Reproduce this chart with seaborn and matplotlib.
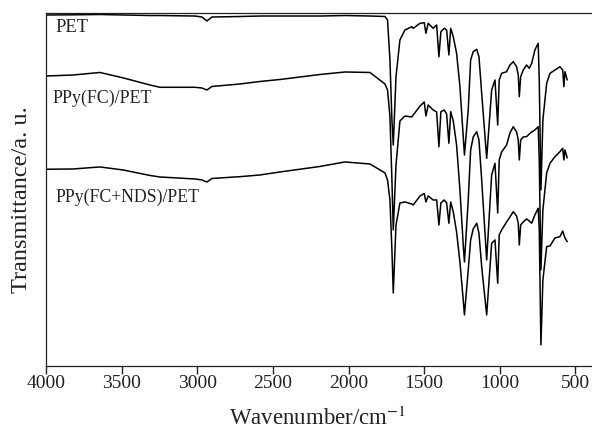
import numpy as np
import pandas as pd
import matplotlib
matplotlib.use("Agg")
import matplotlib.pyplot as plt
import seaborn as sns

sns.set_theme(style="ticks")
plt.rcParams["font.family"] = ["Liberation Serif", "DejaVu Serif"]
plt.rcParams["mathtext.fontset"] = "stix"

# wavenumber grid (cm-1), shared by the three spectra
wavenumber = [
    4000, 3823, 3645, 3492, 3314, 3248, 3016, 2970, 2937, 2904,
    2718, 2586, 2454, 2189, 2024, 1858,
    1759, 1742, 1726, 1713, 1704, 1686, 1660, 1627, 1582, 1572,
    1527, 1499, 1488, 1473, 1440, 1417, 1402, 1389, 1367, 1351,
    1336, 1324, 1307, 1285, 1263, 1241, 1233, 1208, 1192, 1175,
    1152, 1137, 1119, 1086, 1053, 1031, 1013, 1003, 987, 954,
    932, 910, 888, 877, 870, 861, 844, 822, 804, 788,
    767, 745, 738, 727, 714, 689, 667, 634, 601, 583,
    575, 568, 553,
]

pet = [
    99.35, 99.4, 99.49, 99.35, 99.2, 99.2, 99.06, 98.78, 97.65, 98.78,
    98.92, 99.06, 99.06, 99.06, 99.2, 99.06,
    98.92, 97.94, 86.65, 69.71, 62.65, 81.93, 92.29, 95.11, 96.04, 95.59,
    97.0, 97.17, 94.18, 97.0, 95.59, 96.52, 87.58, 94.63, 95.59, 95.11,
    88.06, 95.59, 93.22, 88.54, 79.11, 65.0, 59.83, 72.53, 86.65, 88.99,
    89.67, 87.58, 77.25, 58.9, 78.18, 81.0, 68.3, 81.0, 82.89, 83.34,
    85.23, 86.17, 84.76, 82.41, 76.29, 81.93, 83.82, 85.23, 84.3, 85.71,
    89.47, 91.36, 81.0, 49.95, 69.71, 80.07, 82.89, 83.82, 84.75, 83.82,
    79.11, 83.34, 81.0,
]

ppy_fc = [
    82.13, 82.41, 83.12, 81.6, 79.59, 78.94, 78.94, 78.74, 78.18, 79.17,
    79.87, 80.58, 81.14, 82.55, 83.26, 83.12,
    79.87, 78.18, 70.64, 52.78, 38.67, 57.01, 69.43, 70.84, 70.56, 71.12,
    73.66, 74.79, 70.84, 73.94, 72.53, 71.97, 62.17, 72.05, 72.53, 71.4,
    63.14, 72.05, 69.43, 62.66, 49.95, 34.43, 29.63, 47.13, 61.24, 64.91,
    66.41, 64.07, 52.78, 30.2, 54.19, 57.49, 43.46, 58.42, 60.68, 62.66,
    66.04, 67.82, 66.32, 64.07, 58.42, 64.07, 64.91, 65.0, 65.76, 66.32,
    66.89, 67.82, 58.42, 27.38, 44.31, 54.75, 57.49, 59.36, 60.76, 61.72,
    58.42, 61.24, 58.99,
]

ppy_fc_nds = [
    55.8, 55.88, 56.45, 55.6, 54.05, 53.62, 53.06, 52.78, 52.21, 53.2,
    53.71, 54.19, 55.03, 56.59, 57.86, 57.29,
    54.75, 52.78, 47.13, 33.02, 20.88, 40.07, 46.28, 46.57, 46.0, 45.72,
    48.26, 48.96, 46.57, 48.26, 47.13, 47.13, 40.07, 46.28, 47.13, 46.28,
    40.56, 46.57, 43.74, 38.1, 29.63, 18.9, 14.67, 27.38, 35.84, 38.95,
    40.56, 37.73, 28.31, 14.67, 34.91, 35.84, 23.62, 37.25, 38.67, 40.92,
    42.33, 43.83, 42.61, 40.56, 34.43, 40.07, 40.92, 41.77, 41.2, 40.56,
    42.9, 44.79, 38.67, 6.21, 24.55, 33.95, 34.15, 36.41, 36.77, 38.38,
    37.25, 36.41, 35.36,
]

labels = ["PET", "PPy(FC)/PET", "PPy(FC+NDS)/PET"]
label_pos = [(3942, 95.7), (3956, 75.9), (3936, 48.0)]
label_size = [13.4, 12.9, 12.8]

frames = []
for name, vals in zip(labels, [pet, ppy_fc, ppy_fc_nds]):
    frames.append(pd.DataFrame({"wn": wavenumber, "T": vals, "sample": name}))
df = pd.concat(frames, ignore_index=True)

fig = plt.figure(figsize=(5.92, 4.30), dpi=100)
ax = fig.add_axes([0.0782, 0.15, 0.9218, 0.8205])

sns.lineplot(data=df, x="wn", y="T", hue="sample", units="sample",
             estimator=None, sort=False, palette=["black"] * 3,
             linewidth=1.1, legend=False, ax=ax)

ax.set_xlim(4000, 389)
ax.set_ylim(0.4, 100)
ax.set_xticks([4000, 3500, 3000, 2500, 2000, 1500, 1000, 500])
ax.set_yticks([])
ax.tick_params(axis="x", which="major", direction="out", length=5.5,
               width=1.0, labelsize=14, pad=1.5, color="#222222",
               labelcolor="#222222", bottom=True)
ax.spines["right"].set_visible(False)
for s in ["left", "top", "bottom"]:
    ax.spines[s].set_visible(True)
    ax.spines[s].set_color("#222222")
    ax.spines[s].set_linewidth(0.9)

for name, (x, y), fs in zip(labels, label_pos, label_size):
    ax.text(x, y, name, fontsize=fs, ha="left", va="center", color="#222222")

ax.set_xlabel("Wavenumber/cm$^{-1}$", fontsize=16.5, color="#222222")
ax.xaxis.label.set_verticalalignment("center")
ax.xaxis.set_label_coords(0.498, -0.149)
ax.set_ylabel("Transmittance/a. u.", fontsize=17.5, color="#222222")
ax.yaxis.label.set_verticalalignment("center")
ax.yaxis.set_label_coords(-0.046, 0.47)

fig.savefig("out.png", dpi=100)
